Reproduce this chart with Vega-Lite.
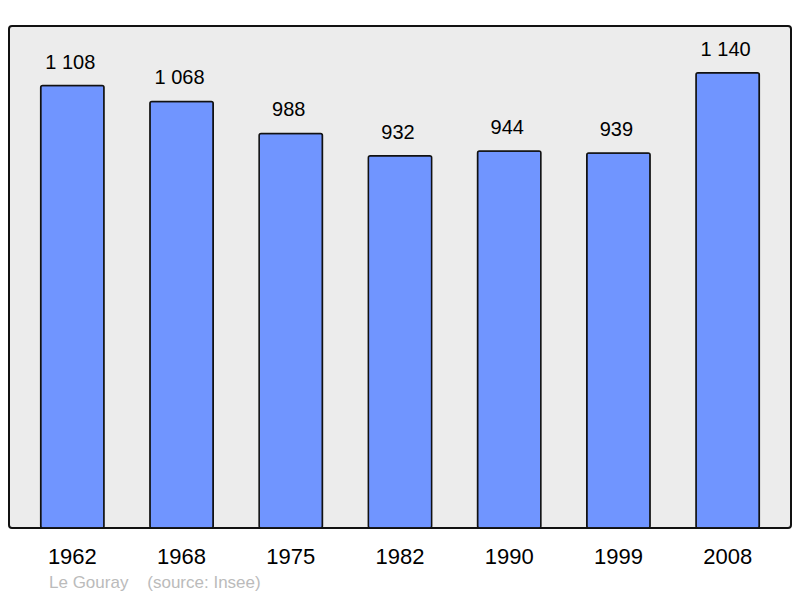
{
  "$schema": "https://vega.github.io/schema/vega-lite/v6.json",
  "autosize": {"type": "none"},
  "width": 782,
  "height": 502,
  "padding": {"left": 9, "top": 26, "right": 9, "bottom": 70},
  "background": "white",
  "config": {
    "font": "Liberation Sans",
    "view": {"fill": "#ececec", "stroke": "#111111", "strokeWidth": 2, "cornerRadius": 3}
  },
  "title": {
    "text": "Le Gouray\u00a0\u00a0\u00a0\u00a0(source: Insee)",
    "orient": "bottom",
    "anchor": "start",
    "dx": 40,
    "offset": 8,
    "fontSize": 17,
    "fontWeight": "normal",
    "color": "#bbbbbb"
  },
  "data": {
    "values": [
      {"year": "1962", "population": 1108, "label": "1 108"},
      {"year": "1968", "population": 1068, "label": "1 068"},
      {"year": "1975", "population": 988, "label": "988"},
      {"year": "1982", "population": 932, "label": "932"},
      {"year": "1990", "population": 944, "label": "944"},
      {"year": "1999", "population": 939, "label": "939"},
      {"year": "2008", "population": 1140, "label": "1 140"}
    ]
  },
  "encoding": {
    "x": {
      "field": "year",
      "type": "ordinal",
      "title": null,
      "scale": {"paddingInner": 0.42, "paddingOuter": 0.29},
      "axis": {
        "domain": false,
        "ticks": false,
        "labelAngle": 0,
        "labelFontSize": 22,
        "labelColor": "#000000",
        "labelPadding": 18
      }
    },
    "y": {
      "field": "population",
      "type": "quantitative",
      "scale": {"domain": [0, 1257]},
      "axis": null
    }
  },
  "layer": [
    {
      "mark": {
        "type": "bar",
        "color": "#7095ff",
        "stroke": "#111111",
        "strokeWidth": 1.5,
        "cornerRadius": 2
      }
    },
    {
      "mark": {
        "type": "text",
        "baseline": "bottom",
        "dy": -13,
        "dx": -2,
        "fontSize": 20,
        "color": "#000000"
      },
      "encoding": {"text": {"field": "label"}}
    }
  ]
}
